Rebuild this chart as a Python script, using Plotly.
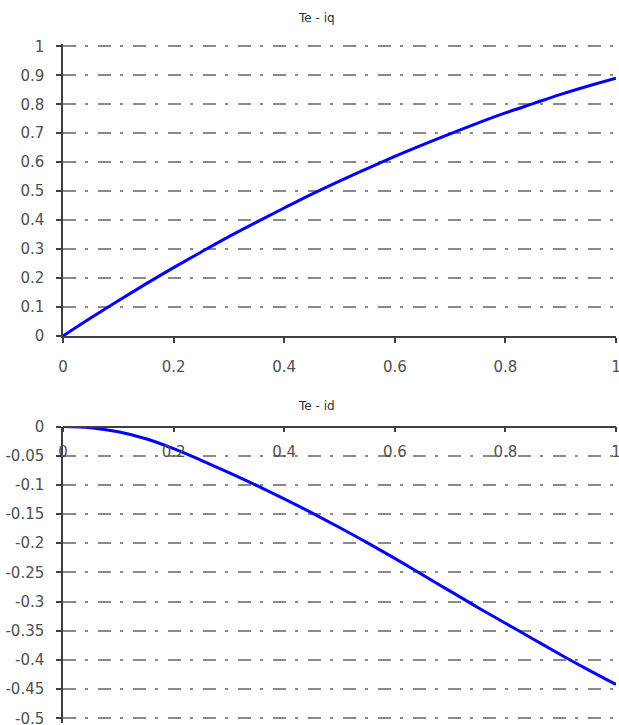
import plotly.graph_objects as go

# ---- data ----
iq = [0, 0.05, 0.1, 0.15, 0.2, 0.25, 0.3, 0.35, 0.4, 0.45, 0.5,
      0.55, 0.6, 0.65, 0.7, 0.75, 0.8, 0.85, 0.9, 0.95, 1.0]
te_iq = [0, 0.062, 0.122, 0.18, 0.236, 0.29, 0.343, 0.393, 0.442, 0.49, 0.535,
         0.578, 0.62, 0.66, 0.698, 0.735, 0.77, 0.802, 0.834, 0.863, 0.89]

id_ = [0, 0.05, 0.1, 0.15, 0.2, 0.25, 0.3, 0.35, 0.4, 0.45, 0.5,
       0.55, 0.6, 0.65, 0.7, 0.75, 0.8, 0.85, 0.9, 0.95, 1.0]
te_id = [0, -0.002, -0.009, -0.021, -0.038, -0.058, -0.079, -0.101, -0.124, -0.148, -0.173,
         -0.199, -0.226, -0.254, -0.282, -0.310, -0.337, -0.364, -0.391, -0.417, -0.442]

x_tickvals = [0, 0.2, 0.4, 0.6, 0.8, 1]
x_ticktext = ["0", "0.2", "0.4", "0.6", "0.8", "1"]
y1_tickvals = [0, 0.1, 0.2, 0.3, 0.4, 0.5, 0.6, 0.7, 0.8, 0.9, 1]
y1_ticktext = ["0", "0.1", "0.2", "0.3", "0.4", "0.5", "0.6", "0.7", "0.8", "0.9", "1"]
y2_tickvals = [0, -0.05, -0.1, -0.15, -0.2, -0.25, -0.3, -0.35, -0.4, -0.45, -0.5]
y2_ticktext = ["0", "-0.05", "-0.1", "-0.15", "-0.2", "-0.25", "-0.3", "-0.35", "-0.4", "-0.45", "-0.5"]

title_top = "Te - iq"
title_bottom = "Te - id"

# ---- styling ----
FONT = "DejaVu Sans"
TICK_COLOR = "#505050"
AXIS_COLOR = "#404040"
GRID_COLOR = "#8a8a8a"
GRID_DASH = "13px,9px,3px,10px"
LINE_COLOR = "#0000ff"

W, H = 619, 725
M_L, M_R, M_T, M_B = 63, 3, 44, 2
plot_h = H - M_T - M_B


def py(pix):
    return 1 - (pix - M_T) / plot_h


def px(pix):
    return (pix - M_L) / (W - M_L - M_R)


top_dom = [py(336), 1.0]
bot_dom = [0.0, py(426.5)]

fig = go.Figure()
fig.add_trace(go.Scatter(x=iq, y=te_iq, mode="lines", line=dict(color=LINE_COLOR, width=3, shape="spline"),
                         xaxis="x", yaxis="y", showlegend=False))
fig.add_trace(go.Scatter(x=id_, y=te_id, mode="lines", line=dict(color=LINE_COLOR, width=3, shape="spline"),
                         xaxis="x2", yaxis="y2", showlegend=False))

tickfont = dict(family=FONT, size=15, color=TICK_COLOR)
common_x = dict(range=[0, 1], tickvals=x_tickvals, ticktext=x_ticktext, showgrid=False, zeroline=False,
                showline=True, linecolor=AXIS_COLOR, linewidth=1.5, ticks="outside", ticklen=5,
                tickcolor=AXIS_COLOR, tickwidth=1.5, tickfont=tickfont, automargin=False,
                ticklabeloverflow="allow", fixedrange=True)
common_y = dict(showgrid=True, gridcolor=GRID_COLOR, gridwidth=2, griddash=GRID_DASH, zeroline=False,
                showline=True, linecolor=AXIS_COLOR, linewidth=1.5, ticks="outside", ticklen=5,
                tickcolor=AXIS_COLOR, tickwidth=1.5, tickfont=tickfont, automargin=False,
                ticklabeloverflow="allow", fixedrange=True)

fig.update_layout(
    width=W, height=H,
    margin=dict(l=M_L, r=M_R, t=M_T, b=M_B, autoexpand=False),
    paper_bgcolor="white", plot_bgcolor="white",
    xaxis=dict(domain=[0, 1], anchor="y", ticklabelstandoff=11, **common_x),
    yaxis=dict(domain=top_dom, anchor="x", range=[0, 1.008], tickvals=y1_tickvals, ticktext=y1_ticktext,
               ticklabelstandoff=9, **common_y),
    xaxis2=dict(domain=[0, 1], anchor="free", position=bot_dom[1], side="bottom",
                ticklabelstandoff=7, **common_x),
    yaxis2=dict(domain=bot_dom, anchor="x2", range=[-0.508, 0], tickvals=y2_tickvals, ticktext=y2_ticktext,
                ticklabelstandoff=9, **common_y),
    annotations=[
        dict(text=title_top, x=px(316), y=py(18), xref="paper", yref="paper", showarrow=False,
             xanchor="center", yanchor="middle",
             font=dict(family=FONT, size=12, color="#303030")),
        dict(text=title_bottom, x=px(316), y=py(406), xref="paper", yref="paper", showarrow=False,
             xanchor="center", yanchor="middle",
             font=dict(family=FONT, size=12, color="#303030")),
    ],
)

fig.write_html("out.html",
               config={"displayModeBar": False},
               post_script="document.body.style.margin='0';document.body.style.overflow='hidden';")
